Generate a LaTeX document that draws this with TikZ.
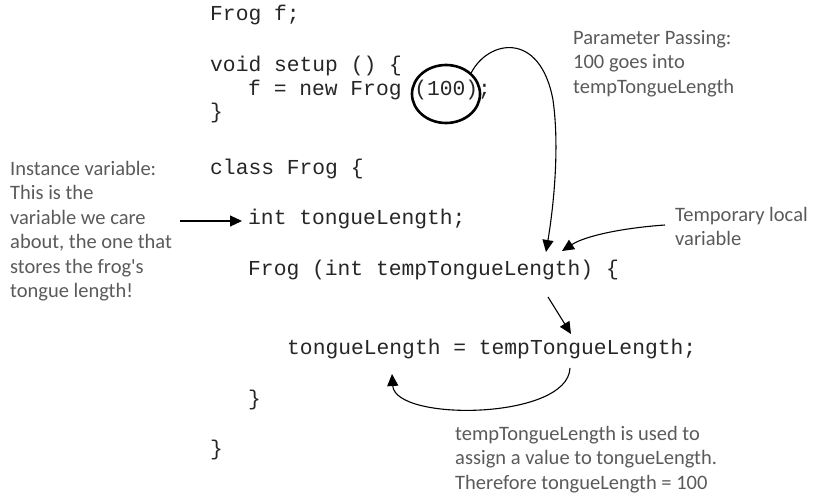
\documentclass[tikz,border=0pt]{standalone}
\usepackage{fontspec}
\usepackage{tikz}
\usetikzlibrary{positioning,shapes.geometric,arrows.meta}
\setmonofont{Liberation Mono}
\newfontfamily\notefont{Carlito}
\definecolor{notegray}{RGB}{90,90,90}

\begin{document}
\begin{tikzpicture}[x=1pt,y=-1pt,
        codeline/.style={anchor=west,inner sep=0pt,text height=12pt,text depth=4pt,
            font=\ttfamily\fontsize{21.3}{24}\selectfont,text=black!85},
        notetext/.style={anchor=north west,inner sep=0pt,align=left,text=notegray,
            font=\notefont\fontsize{20.5}{24.5}\selectfont},
        pointer/.style={line width=1.1pt,-{Triangle[length=12pt,width=11pt]}}]
        \useasboundingbox (0,0) rectangle (821,502);

        % the code
        \node[codeline] (frogdecl) at (210,17) {Frog f;};
        \node[codeline] (setup) at (210,68) {void setup () \{};
        \node[codeline] (newfrog) at (248,92) {f = new Frog (100);};
        \node[codeline] (setupclose) at (210,115) {\}};
        \node[codeline] (classfrog) at (210,171) {class Frog \{};
        \node[codeline] (tongue) at (248,221) {int tongueLength;};
        \node[codeline] (ctor) at (248,272) {Frog (int tempTongueLength) \{};
        \node[codeline] (assign) at (287,350) {tongueLength = tempTongueLength;};
        \node[codeline] (ctorclose) at (248,401) {\}};
        \node[codeline] (classclose) at (210,451) {\}};

        % circle round the argument
        \node[ellipse,draw,line width=2.6pt,minimum width=68pt,minimum height=58pt] (hundred) at (446,94) {};

        % the notes
        \node[notetext] (paramnote) at (573,30) {Parameter Passing:\\100 goes into\\tempTongueLength};
        \node[notetext] (localnote) at (675,207) {Temporary local\\variable};
        \node[notetext] (instnote) at (10,161) {Instance variable:\\This is the\\variable we care\\about, the one that\\stores the frog's\\tongue length!};
        \node[notetext] (usenote) at (455,426) {tempTongueLength is used to\\assign a value to tongueLength.\\Therefore tongueLength = 100};

        % arrow ends
        \coordinate (insttail) at (180,221);
        \coordinate (insthead) at (242,221);
        \coordinate (paramhead) at (546,252);
        \coordinate (localtail) at (665,225);
        \coordinate (localhead) at (562,251);
        \coordinate (passtail) at (548,297);
        \coordinate (passhead) at (571,334);
        \coordinate (usetail) at (570,368);
        \coordinate (usehead) at (392,374);

        \draw[pointer] (insttail) -- (insthead);
        \draw[pointer] (hundred.40) .. controls (488,40) and (540,30) .. (553,100)
            .. controls (560,150) and (553,210) .. (paramhead);
        \draw[pointer] (localtail) .. controls (622,228) and (585,236) .. (localhead);
        \draw[pointer] (passtail) -- (passhead);
        \draw[pointer] (usetail) .. controls (568,420) and (395,422) .. (usehead);

    \end{tikzpicture}
\end{document}
